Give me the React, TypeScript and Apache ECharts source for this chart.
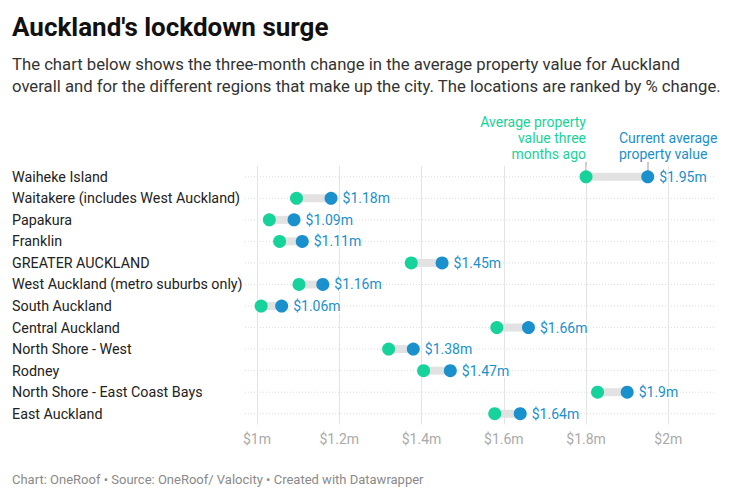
import React, { useEffect, useRef } from "react";
import * as echarts from "echarts";

const locations = [
  "Waiheke Island",
  "Waitakere (includes West Auckland)",
  "Papakura",
  "Franklin",
  "GREATER AUCKLAND",
  "West Auckland (metro suburbs only)",
  "South Auckland",
  "Central Auckland",
  "North Shore - West",
  "Rodney",
  "North Shore - East Coast Bays",
  "East Auckland",
];
const threeMonthsAgo = [1.8, 1.096, 1.03, 1.055, 1.375, 1.102, 1.01, 1.583, 1.32, 1.405, 1.828, 1.578];
const current = [1.95, 1.18, 1.09, 1.11, 1.45, 1.16, 1.06, 1.66, 1.38, 1.47, 1.9, 1.64];
const tickValues = [1, 1.2, 1.4, 1.6, 1.8, 2];

const GREEN = "#15d39a";
const BLUE = "#1a90cc";
const FONT = "Roboto";
const X_MIN = 1;
const X_MAX = 2.1135;
const ROW_LINE_START = 0.9708;

export default function App() {
  const ref = useRef<HTMLDivElement>(null);
  useEffect(() => {
    if (!ref.current) return;
    const chart = echarts.init(ref.current, null, { renderer: "svg" });
    const fmt = (v: number) => "$" + Math.round(v * 100) / 100 + "m";
    chart.setOption({
      animation: false,
      textStyle: { fontFamily: FONT },
      grid: { left: 257, right: 25, top: 166, bottom: 75.5 },
      xAxis: {
        type: "value",
        min: X_MIN,
        max: X_MAX,
        interval: 0.2,
        axisLine: { show: false },
        axisTick: { show: false },
        splitLine: { show: false },
        axisLabel: {
          showMaxLabel: false,
          formatter: (v: number) => (v > 2.0001 ? "" : fmt(v)),
          color: "#aaaaaa",
          fontSize: 14,
          fontFamily: FONT,
          margin: 7,
        },
      },
      yAxis: {
        type: "category",
        data: locations,
        inverse: true,
        axisLine: { show: false },
        axisTick: { show: false },
        splitLine: { show: false },
        axisLabel: {
          align: "left",
          margin: 245,
          color: "#222222",
          fontSize: 14.3,
          fontFamily: FONT,
        },
      },
      series: [
        {
          type: "custom",
          silent: true,
          clip: false,
          z: 1,
          data: locations.map((_, i) => [threeMonthsAgo[i], current[i], i]),
          renderItem: (params: any, api: any) => {
            const a = api.coord([api.value(0), api.value(2)]);
            const b = api.coord([api.value(1), api.value(2)]);
            const s = api.coord([ROW_LINE_START, api.value(2)]);
            const e = api.coord([X_MAX, api.value(2)]);
            return {
              type: "group",
              children: [
                {
                  type: "line",
                  shape: { x1: s[0], y1: s[1], x2: e[0], y2: e[1] },
                  style: { stroke: "#dddddd", lineWidth: 1, lineDash: [1, 2] },
                },
                {
                  type: "line",
                  shape: { x1: a[0], y1: a[1], x2: b[0], y2: b[1] },
                  style: { stroke: "#e2e2e2", lineWidth: 8 },
                },
              ],
            };
          },
          encode: { x: [0, 1], y: 2 },
        },
        {
          type: "scatter",
          name: "Average property value three months ago",
          z: 3,
          symbolSize: 13,
          itemStyle: { color: GREEN, opacity: 1 },
          data: locations.map((c, i) => [threeMonthsAgo[i], c]),
          markLine: {
            silent: true,
            symbol: "none",
            z: 0,
            label: { show: false },
            data: tickValues.map((v) => ({
              xAxis: v,
              lineStyle: { color: "#e4e4e4", width: 1, type: "solid" },
            })),
          },
        },
        {
          type: "scatter",
          name: "Current average property value",
          z: 4,
          symbolSize: 13,
          itemStyle: { color: BLUE, opacity: 1 },
          label: {
            show: true,
            position: "right",
            distance: 5,
            color: BLUE,
            fontSize: 14,
            fontFamily: FONT,
            textBorderColor: "#ffffff",
            textBorderWidth: 3,
            formatter: (p: any) => fmt(p.value[0]),
          },
          data: locations.map((c, i) => [current[i], c]),
        },
      ],
      graphic: [
        {
          type: "text",
          left: 12,
          top: 14,
          style: {
            text: "Auckland's lockdown surge",
            font: `bold 26px ${FONT}`,
            fill: "#111111",
          },
        },
        {
          type: "text",
          left: 12,
          top: 53,
          style: {
            text:
              "The chart below shows the three-month change in the average property value for Auckland\noverall and for the different regions that make up the city. The locations are ranked by % change.",
            font: `16.7px ${FONT}`,
            lineHeight: 22,
            fill: "#333333",
          },
        },
        {
          type: "text",
          x: 586,
          y: 114,
          style: {
            text: "Average property\nvalue three\nmonths ago",
            font: `14px ${FONT}`,
            lineHeight: 16,
            fill: GREEN,
            align: "right",
            verticalAlign: "top",
          },
        },
        {
          type: "text",
          x: 619,
          y: 130,
          style: {
            text: "Current average\nproperty value",
            font: `14px ${FONT}`,
            lineHeight: 16,
            fill: BLUE,
            align: "left",
            verticalAlign: "top",
          },
        },
        {
          type: "line",
          shape: { x1: 586, y1: 162, x2: 586, y2: 171 },
          style: { stroke: "#999999", lineWidth: 1 },
        },
        {
          type: "line",
          shape: { x1: 648, y1: 162, x2: 648, y2: 171 },
          style: { stroke: "#999999", lineWidth: 1 },
        },
        {
          type: "text",
          left: 12,
          top: 473,
          style: {
            text: "Chart: OneRoof • Source: OneRoof/ Valocity • Created with Datawrapper",
            font: `13px ${FONT}`,
            fill: "#8a8a8a",
          },
        },
      ],
    });
    return () => chart.dispose();
  }, []);
  return <div ref={ref} style={{ width: 740, height: 500, margin: -8 }} />;
}
